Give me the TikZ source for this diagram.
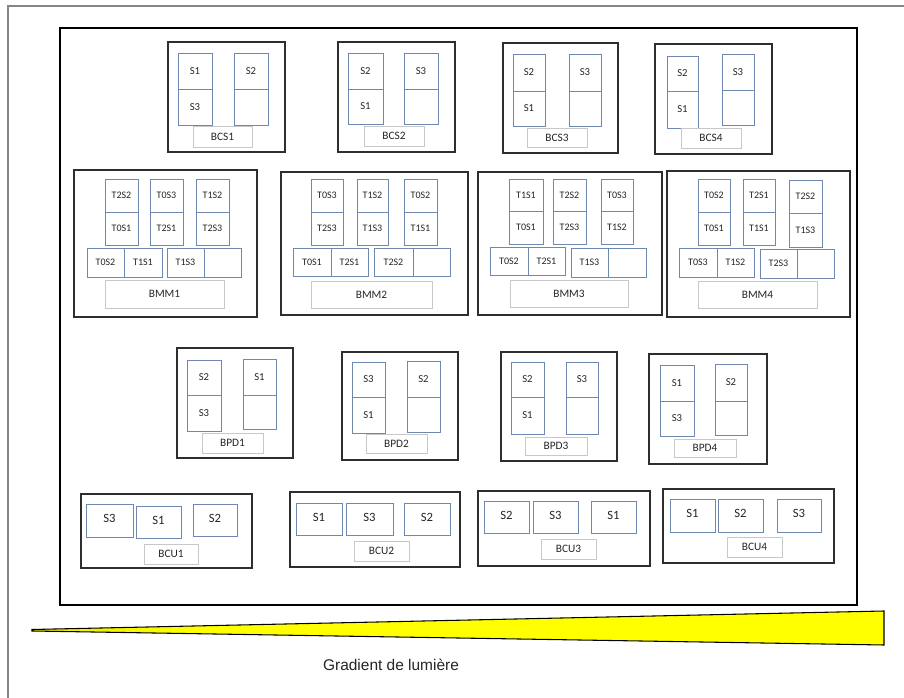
\documentclass[tikz,border=0pt]{standalone}
\usepackage{fontspec}
\setmainfont{Carlito}
\newfontfamily\gradfont{Liberation Sans}
\definecolor{colblue}{HTML}{7088B0}
\definecolor{lblgray}{HTML}{C8C8C8}
\definecolor{modgray}{HTML}{2E2E2E}
\definecolor{framegray}{HTML}{858585}
\definecolor{txtgray}{HTML}{262626}
\pgfdeclarehorizontalshading{wedgeshade}{100bp}{color(0bp)=(yellow!30!black); color(15bp)=(yellow!85!black); color(35bp)=(yellow); color(100bp)=(yellow)}
% \rb{name}{x1}{y1}{x2}{y2}{style}{text}
\newcommand{\rb}[7]{\node[#6, anchor=north west, inner sep=0pt, outer sep=0pt,
  minimum width={(#4-#2)*0.75pt}, minimum height={(#5-#3)*0.75pt}] (#1) at (#2,#3) {#7};}
\tikzset{
  module/.style={draw=modgray, line width=1.0pt, fill=white},
  cell/.style={draw=colblue, line width=0.7pt, text=txtgray, font=\fontsize{8}{9}\selectfont},
  tcell/.style={draw=colblue, line width=0.7pt, text=txtgray, font=\fontsize{7.5}{8}\selectfont},
  ucell/.style={draw=colblue, line width=0.7pt, text=txtgray, font=\fontsize{9.5}{10}\selectfont, text depth=3pt},
  lbl/.style={draw=lblgray, line width=0.6pt, text=txtgray, font=\fontsize{8.5}{9}\selectfont},
  bigframe/.style={draw=black, line width=2.0pt},
}
\begin{document}
\begin{tikzpicture}[x=0.75pt,y=-0.75pt]
\useasboundingbox (0,0) rectangle (904,698);
\fill[white] (0,0) rectangle (904,698);
% page frame (open at right and bottom)
\draw[framegray, line width=1.1pt] (904,6) -- (8,6) -- (8,698);
% main frame
\rb{main}{60}{28}{857}{605}{bigframe}{}
% ---------------- BCS row ----------------
\rb{bcs1}{168}{42}{285}{152}{module}{}
\rb{bcs1a}{178}{53}{212}{89}{cell}{S1}
\rb{bcs1b}{178}{89}{212}{125}{cell}{S3}
\rb{bcs1c}{234}{53}{268}{89}{cell}{S2}
\rb{bcs1d}{234}{89}{268}{125}{cell}{}
\rb{bcs1l}{193}{126}{252}{147}{lbl}{BCS1}

\rb{bcs2}{338}{42}{455}{152}{module}{}
\rb{bcs2a}{348}{53}{383}{89}{cell}{S2}
\rb{bcs2b}{348}{89}{383}{124}{cell}{S1}
\rb{bcs2c}{404}{53}{438}{89}{cell}{S3}
\rb{bcs2d}{404}{89}{438}{124}{cell}{}
\rb{bcs2l}{364}{126}{424}{146}{lbl}{BCS2}

\rb{bcs3}{503}{43}{618}{153}{module}{}
\rb{bcs3a}{513}{54}{545}{91}{cell}{S2}
\rb{bcs3b}{513}{91}{545}{126}{cell}{S1}
\rb{bcs3c}{569}{54}{601}{91}{cell}{S3}
\rb{bcs3d}{569}{91}{601}{126}{cell}{}
\rb{bcs3l}{527}{128}{587}{147}{lbl}{BCS3}

\rb{bcs4}{655}{44}{772}{154}{module}{}
\rb{bcs4a}{667}{56}{698}{91}{cell}{S2}
\rb{bcs4b}{667}{91}{698}{128}{cell}{S1}
\rb{bcs4c}{722}{54}{754}{90}{cell}{S3}
\rb{bcs4d}{722}{90}{754}{125}{cell}{}
\rb{bcs4l}{681}{128}{741}{148}{lbl}{BCS4}
% ---------------- BMM row ----------------
\rb{bmm1}{74}{170}{257}{317}{module}{}
\rb{bmm1a}{105}{179}{138}{212}{tcell}{T2S2}
\rb{bmm1b}{105}{212}{138}{245}{tcell}{T0S1}
\rb{bmm1c}{150}{179}{183}{212}{tcell}{T0S3}
\rb{bmm1d}{150}{212}{183}{245}{tcell}{T2S1}
\rb{bmm1e}{196}{179}{229}{212}{tcell}{T1S2}
\rb{bmm1f}{196}{212}{229}{245}{tcell}{T2S3}
\rb{bmm1g}{87}{248}{124}{277}{tcell}{T0S2}
\rb{bmm1h}{124}{248}{162}{277}{tcell}{T1S1}
\rb{bmm1i}{167}{248}{204}{277}{tcell}{T1S3}
\rb{bmm1j}{204}{248}{241}{277}{tcell}{}
\rb{bmm1l}{105}{280}{224}{308}{lbl}{BMM1}

\rb{bmm2}{281}{172}{468}{315}{module}{}
\rb{bmm2a}{311}{179}{343}{212}{tcell}{T0S3}
\rb{bmm2b}{311}{212}{343}{245}{tcell}{T2S3}
\rb{bmm2c}{357}{179}{388}{212}{tcell}{T1S2}
\rb{bmm2d}{357}{212}{388}{245}{tcell}{T1S3}
\rb{bmm2e}{404}{179}{437}{212}{tcell}{T0S2}
\rb{bmm2f}{404}{212}{437}{245}{tcell}{T1S1}
\rb{bmm2g}{293}{248}{331}{276}{tcell}{T0S1}
\rb{bmm2h}{331}{248}{368}{276}{tcell}{T2S1}
\rb{bmm2i}{374}{248}{413}{276}{tcell}{T2S2}
\rb{bmm2j}{413}{248}{450}{276}{tcell}{}
\rb{bmm2l}{311}{281}{432}{308}{lbl}{BMM2}

\rb{bmm3}{478}{172}{662}{315}{module}{}
\rb{bmm3a}{509}{179}{543}{211}{tcell}{T1S1}
\rb{bmm3b}{509}{211}{543}{244}{tcell}{T0S1}
\rb{bmm3c}{553}{179}{586}{211}{tcell}{T2S2}
\rb{bmm3d}{553}{211}{586}{244}{tcell}{T2S3}
\rb{bmm3e}{601}{179}{633}{211}{tcell}{T0S3}
\rb{bmm3f}{601}{211}{633}{244}{tcell}{T1S2}
\rb{bmm3g}{490}{247}{528}{275}{tcell}{T0S2}
\rb{bmm3h}{528}{247}{565}{275}{tcell}{T2S1}
\rb{bmm3i}{571}{248}{608}{277}{tcell}{T1S3}
\rb{bmm3j}{608}{248}{646}{277}{tcell}{}
\rb{bmm3l}{510}{280}{628}{307}{lbl}{BMM3}

\rb{bmm4}{667}{171}{850}{317}{module}{}
\rb{bmm4a}{698}{179}{730}{212}{tcell}{T0S2}
\rb{bmm4b}{698}{212}{730}{245}{tcell}{T0S1}
\rb{bmm4c}{743}{179}{775}{212}{tcell}{T2S1}
\rb{bmm4d}{743}{212}{775}{245}{tcell}{T1S1}
\rb{bmm4e}{789}{180}{822}{213}{tcell}{T2S2}
\rb{bmm4f}{789}{213}{822}{247}{tcell}{T1S3}
\rb{bmm4g}{679}{248}{717}{277}{tcell}{T0S3}
\rb{bmm4h}{717}{248}{754}{277}{tcell}{T1S2}
\rb{bmm4i}{760}{249}{797}{278}{tcell}{T2S3}
\rb{bmm4j}{797}{249}{834}{278}{tcell}{}
\rb{bmm4l}{698}{281}{817}{308}{lbl}{BMM4}
% ---------------- BPD row ----------------
\rb{bpd1}{177}{348}{293}{458}{module}{}
\rb{bpd1a}{187}{360}{221}{395}{cell}{S2}
\rb{bpd1b}{187}{395}{221}{431}{cell}{S3}
\rb{bpd1c}{243}{359}{276}{395}{cell}{S1}
\rb{bpd1d}{243}{395}{276}{429}{cell}{}
\rb{bpd1l}{202}{433}{263}{453}{lbl}{BPD1}

\rb{bpd2}{342}{352}{458}{460}{module}{}
\rb{bpd2a}{352}{362}{385}{397}{cell}{S3}
\rb{bpd2b}{352}{397}{385}{433}{cell}{S1}
\rb{bpd2c}{407}{361}{440}{397}{cell}{S2}
\rb{bpd2d}{407}{397}{440}{432}{cell}{}
\rb{bpd2l}{366}{434}{427}{453}{lbl}{BPD2}

\rb{bpd3}{501}{352}{617}{461}{module}{}
\rb{bpd3a}{511}{362}{544}{397}{cell}{S2}
\rb{bpd3b}{511}{397}{544}{434}{cell}{S1}
\rb{bpd3c}{566}{362}{598}{397}{cell}{S3}
\rb{bpd3d}{566}{397}{598}{434}{cell}{}
\rb{bpd3l}{525}{437}{587}{455}{lbl}{BPD3}

\rb{bpd4}{649}{354}{767}{464}{module}{}
\rb{bpd4a}{660}{365}{694}{401}{cell}{S1}
\rb{bpd4b}{660}{401}{694}{436}{cell}{S3}
\rb{bpd4c}{715}{364}{747}{401}{cell}{S2}
\rb{bpd4d}{715}{401}{747}{435}{cell}{}
\rb{bpd4l}{674}{439}{736}{457}{lbl}{BPD4}
% ---------------- BCU row ----------------
\rb{bcu1}{81}{494}{252}{568}{module}{}
\rb{bcu1a}{86}{504}{133}{537}{ucell}{S3}
\rb{bcu1b}{136}{506}{181}{538}{ucell}{S1}
\rb{bcu1c}{193}{504}{237}{536}{ucell}{S2}
\rb{bcu1l}{144}{544}{198}{564}{lbl}{BCU1}

\rb{bcu2}{290}{492}{460}{567}{module}{}
\rb{bcu2a}{296}{503}{342}{535}{ucell}{S1}
\rb{bcu2b}{346}{503}{393}{535}{ucell}{S3}
\rb{bcu2c}{404}{503}{450}{535}{ucell}{S2}
\rb{bcu2l}{354}{541}{409}{561}{lbl}{BCU2}

\rb{bcu3}{478}{491}{650}{566}{module}{}
\rb{bcu3a}{484}{501}{529}{533}{ucell}{S2}
\rb{bcu3b}{533}{501}{578}{533}{ucell}{S3}
\rb{bcu3c}{591}{501}{636}{533}{ucell}{S1}
\rb{bcu3l}{541}{539}{596}{559}{lbl}{BCU3}

\rb{bcu4}{663}{489}{834}{563}{module}{}
\rb{bcu4a}{670}{499}{715}{532}{ucell}{S1}
\rb{bcu4b}{718}{499}{763}{532}{ucell}{S2}
\rb{bcu4c}{777}{499}{821}{532}{ucell}{S3}
\rb{bcu4l}{727}{537}{782}{557}{lbl}{BCU4}
% ---------------- light gradient ----------------
\shadedraw[shading=wedgeshade, draw=black, line width=0.8pt, line join=miter]
  (32,629.5) -- (884,611) -- (884,645) -- (32,631) -- cycle;
\node[font=\gradfont\fontsize{11.6}{14}\selectfont, text=txtgray, inner sep=0pt] (gradtxt) at (391,665) {Gradient de lumière};
\end{tikzpicture}
\end{document}
